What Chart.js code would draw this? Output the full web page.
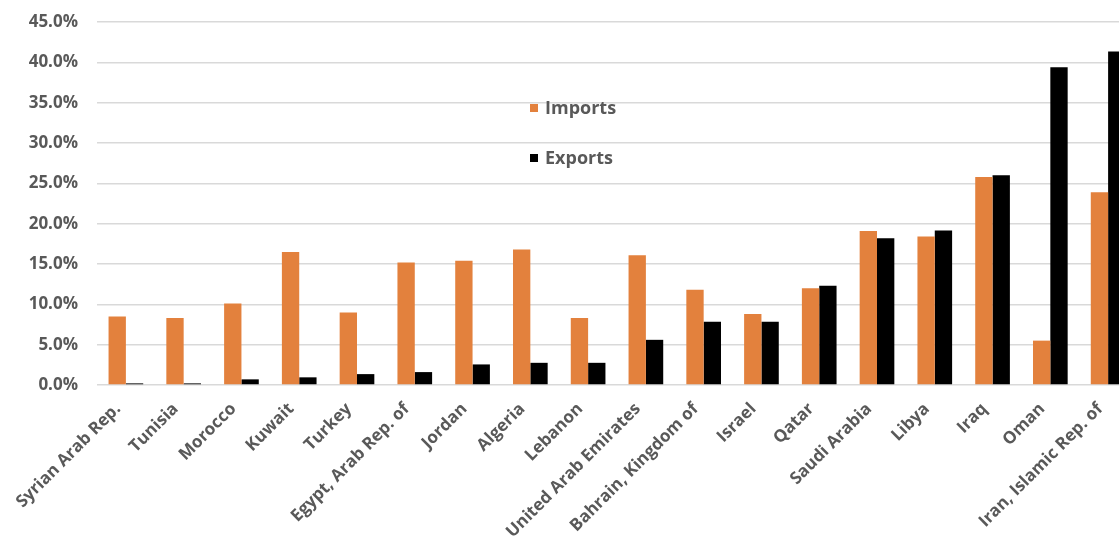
<!DOCTYPE html>
<html>
<head>
<meta charset="utf-8">
<script src="https://cdn.jsdelivr.net/npm/chart.js@4.4.1/dist/chart.umd.min.js"></script>
<style>
  html, body { margin: 0; padding: 0; background: #fff; overflow: hidden; }
  #wrap { width: 1137px; height: 550px; }
</style>
</head>
<body>
<div id="wrap"><canvas id="tradeChart" width="1137" height="550"></canvas></div>
<script>
var countries = ['Syrian Arab Rep.', 'Tunisia', 'Morocco', 'Kuwait', 'Turkey', 'Egypt, Arab Rep. of',
    'Jordan', 'Algeria', 'Lebanon', 'United Arab Emirates', 'Bahrain, Kingdom of', 'Israel',
    'Qatar', 'Saudi Arabia', 'Libya', 'Iraq', 'Oman', 'Iran, Islamic Rep. of'];
var imports = [8.5, 8.3, 10.1, 16.5, 9.0, 15.2, 15.4, 16.8, 8.3, 16.1, 11.8, 8.8, 12.0, 19.1, 18.4, 25.8, 5.5, 23.9];
var exports = [0.2, 0.2, 0.7, 0.95, 1.35, 1.6, 2.55, 2.75, 2.75, 5.6, 7.85, 7.85, 12.3, 18.2, 19.15, 26.0, 39.4, 41.35];
var yTicks = [0, 5, 10, 15, 20, 25, 30, 35, 40, 45];

var textColor = '#595959';
var fontFamily = '"Open Sans", sans-serif';

// legend drawn inside the plot, stacked with a wide gap
var innerLegend = {
    id: 'innerLegend',
    afterDatasetsDraw: function (chart) {
        var ctx = chart.ctx;
        var x = 530, y = 108, gap = 50, box = 8;
        ctx.save();
        ctx.font = 'bold 18px ' + fontFamily;
        ctx.textBaseline = 'middle';
        chart.data.datasets.forEach(function (ds, i) {
            var cy = y + i * gap;
            ctx.fillStyle = ds.backgroundColor;
            ctx.fillRect(x, cy - box / 2, box, box);
            ctx.fillStyle = textColor;
            ctx.fillText(ds.label, x + 15, cy + 1);
        });
        ctx.restore();
    }
};

var ctx = document.getElementById('tradeChart').getContext('2d');
var myChart = new Chart(ctx, {
    type: 'bar',
    data: {
        labels: countries,
        datasets: [
            {
                label: 'Imports',
                data: imports,
                backgroundColor: '#E3813D',
                categoryPercentage: 0.6,
                barPercentage: 1
            },
            {
                label: 'Exports',
                data: exports,
                backgroundColor: '#000000',
                categoryPercentage: 0.6,
                barPercentage: 1
            }
        ]
    },
    options: {
        responsive: false,
        animation: false,
        layout: { padding: 0 },
        plugins: {
            legend: { display: false },
            tooltip: { enabled: false }
        },
        scales: {
            x: {
                grid: { display: false },
                border: { display: false },
                afterFit: function (scale) {
                    scale.height = 165;
                    scale.paddingTop = 0;
                    scale.paddingBottom = 0;
                },
                ticks: {
                    color: textColor,
                    font: { family: fontFamily, size: 17, weight: 'bold' },
                    minRotation: 45,
                    maxRotation: 45,
                    labelOffset: -8,
                    padding: 6
                }
            },
            y: {
                min: 0,
                max: 45,
                afterFit: function (scale) {
                    scale.width = 97;
                    scale.paddingTop = 22;
                    scale.paddingBottom = 0;
                },
                afterBuildTicks: function (scale) {
                    scale.ticks = yTicks.map(function (v) { return { value: v }; });
                },
                grid: { color: '#d9d9d9', lineWidth: 1.5, drawTicks: false },
                border: { display: false },
                ticks: {
                    color: textColor,
                    padding: 19,
                    font: { family: fontFamily, size: 17, weight: 'bold' },
                    callback: function (v) { return v.toFixed(1) + '%'; }
                }
            }
        }
    },
    plugins: [innerLegend]
});
</script>
</body>
</html>
